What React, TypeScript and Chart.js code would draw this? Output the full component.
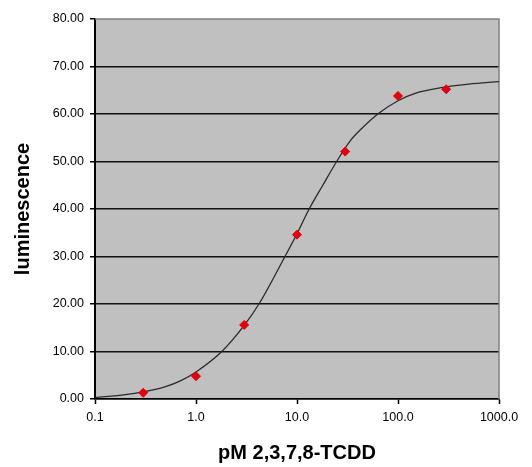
import React, { useEffect, useRef } from "react";
import { Chart, registerables } from "chart.js";

Chart.register(...registerables);

// Measured points
const doseX = [0.3, 1, 3, 10, 30, 100, 300];
const lumY = [1.3, 4.8, 15.6, 34.6, 52.1, 63.8, 65.2];

// Fitted curve
const fitX = [0.1, 0.2, 0.3, 0.5, 0.7, 1, 1.8, 3, 4.2, 7.6, 10, 13.2, 18, 24.7, 33.5, 45, 65, 100, 150, 260, 500, 1000];
const fitY = [0.3, 0.9, 1.5, 2.6, 3.8, 5.7, 10, 15.5, 20, 30, 34.8, 40, 45, 50, 54.3, 57.2, 60.2, 62.8, 64.4, 65.5, 66.3, 66.8];

const xTickValues = [0.1, 1, 10, 100, 1000];
const xTickLabels = ["0.1", "1.0", "10.0", "100.0", "1000.0"];

const xTitle = "pM 2,3,7,8-TCDD";
const yTitle = "luminescence";

const FONT = "'Liberation Sans', Arial, sans-serif";

const plotBg = {
  id: "plotBg",
  beforeDraw(chart: any) {
    const { ctx, chartArea: a } = chart;
    ctx.save();
    ctx.fillStyle = "#c0c0c0";
    ctx.fillRect(a.left, a.top, a.right - a.left, a.bottom - a.top);
    ctx.restore();
  },
  beforeDatasetsDraw(chart: any) {
    const { ctx, chartArea: a } = chart;
    ctx.save();
    ctx.strokeStyle = "#808080";
    ctx.lineWidth = 1.5;
    ctx.beginPath();
    ctx.moveTo(a.left, a.top);
    ctx.lineTo(a.right, a.top);
    ctx.lineTo(a.right, a.bottom);
    ctx.stroke();
    ctx.restore();
  },
};

export default function App() {
  const ref = useRef<HTMLCanvasElement>(null);
  useEffect(() => {
    document.body.style.margin = "0";
    const chart = new Chart(ref.current!, {
      type: "scatter",
      data: {
        datasets: [
          {
            type: "line",
            data: fitX.map((x, i) => ({ x, y: fitY[i] })),
            borderColor: "#2a2a2a",
            borderWidth: 1.3,
            pointRadius: 0,
            cubicInterpolationMode: "monotone",
            fill: false,
            order: 2,
          } as any,
          {
            data: doseX.map((x, i) => ({ x, y: lumY[i] })),
            pointStyle: "rectRot",
            pointRadius: 4.5,
            backgroundColor: "#e3000f",
            borderColor: "#e3000f",
            borderWidth: 1,
            order: 1,
          },
        ],
      },
      options: {
        animation: false,
        responsive: true,
        maintainAspectRatio: false,
        layout: { padding: { left: 0, right: 33, top: 19, bottom: 0 } },
        plugins: { legend: { display: false }, tooltip: { enabled: false } },
        scales: {
          x: {
            type: "logarithmic",
            min: 0.1,
            max: 1000,
            afterBuildTicks: (s: any) => {
              s.ticks = xTickValues.map((v) => ({ value: v }));
            },
            afterFit: (s: any) => {
              s.height = 68;
            },
            ticks: {
              autoSkip: false,
              maxRotation: 0,
              padding: 6,
              color: "#000",
              font: { family: FONT, size: 12.5 },
              callback: (v: any) => {
                const i = xTickValues.indexOf(Number(v));
                return i >= 0 ? xTickLabels[i] : "";
              },
            },
            grid: { drawOnChartArea: false, drawTicks: true, tickLength: 5, tickColor: "#000", tickWidth: 1.5 },
            border: { color: "#000", width: 1.5 },
            title: {
              display: true,
              text: xTitle,
              color: "#000",
              font: { family: FONT, size: 20, weight: "bold" },
              padding: { top: 0, bottom: 2 },
            },
          },
          y: {
            min: 0,
            max: 80,
            afterFit: (s: any) => {
              s.width = 95;
            },
            ticks: {
              stepSize: 10,
              padding: 6,
              color: "#000",
              font: { family: FONT, size: 12.5 },
              callback: (v: any) => Number(v).toFixed(2),
            },
            grid: {
              color: (c: any) => (c.tick && c.tick.value === 80 ? "rgba(0,0,0,0)" : "#111"),
              lineWidth: 1.5,
              tickLength: 5,
              tickColor: "#000",
              tickWidth: 1.5,
            },
            border: { color: "#000", width: 2 },
            title: {
              display: true,
              text: yTitle,
              color: "#000",
              font: { family: FONT, size: 20, weight: "bold" },
              padding: { top: 11, bottom: 0 },
            },
          },
        },
      },
      plugins: [plotBg],
    });
    return () => chart.destroy();
  }, []);
  return (
    <div style={{ position: "absolute", left: 0, top: 0, width: 532, height: 467 }}>
      <canvas ref={ref} />
    </div>
  );
}
